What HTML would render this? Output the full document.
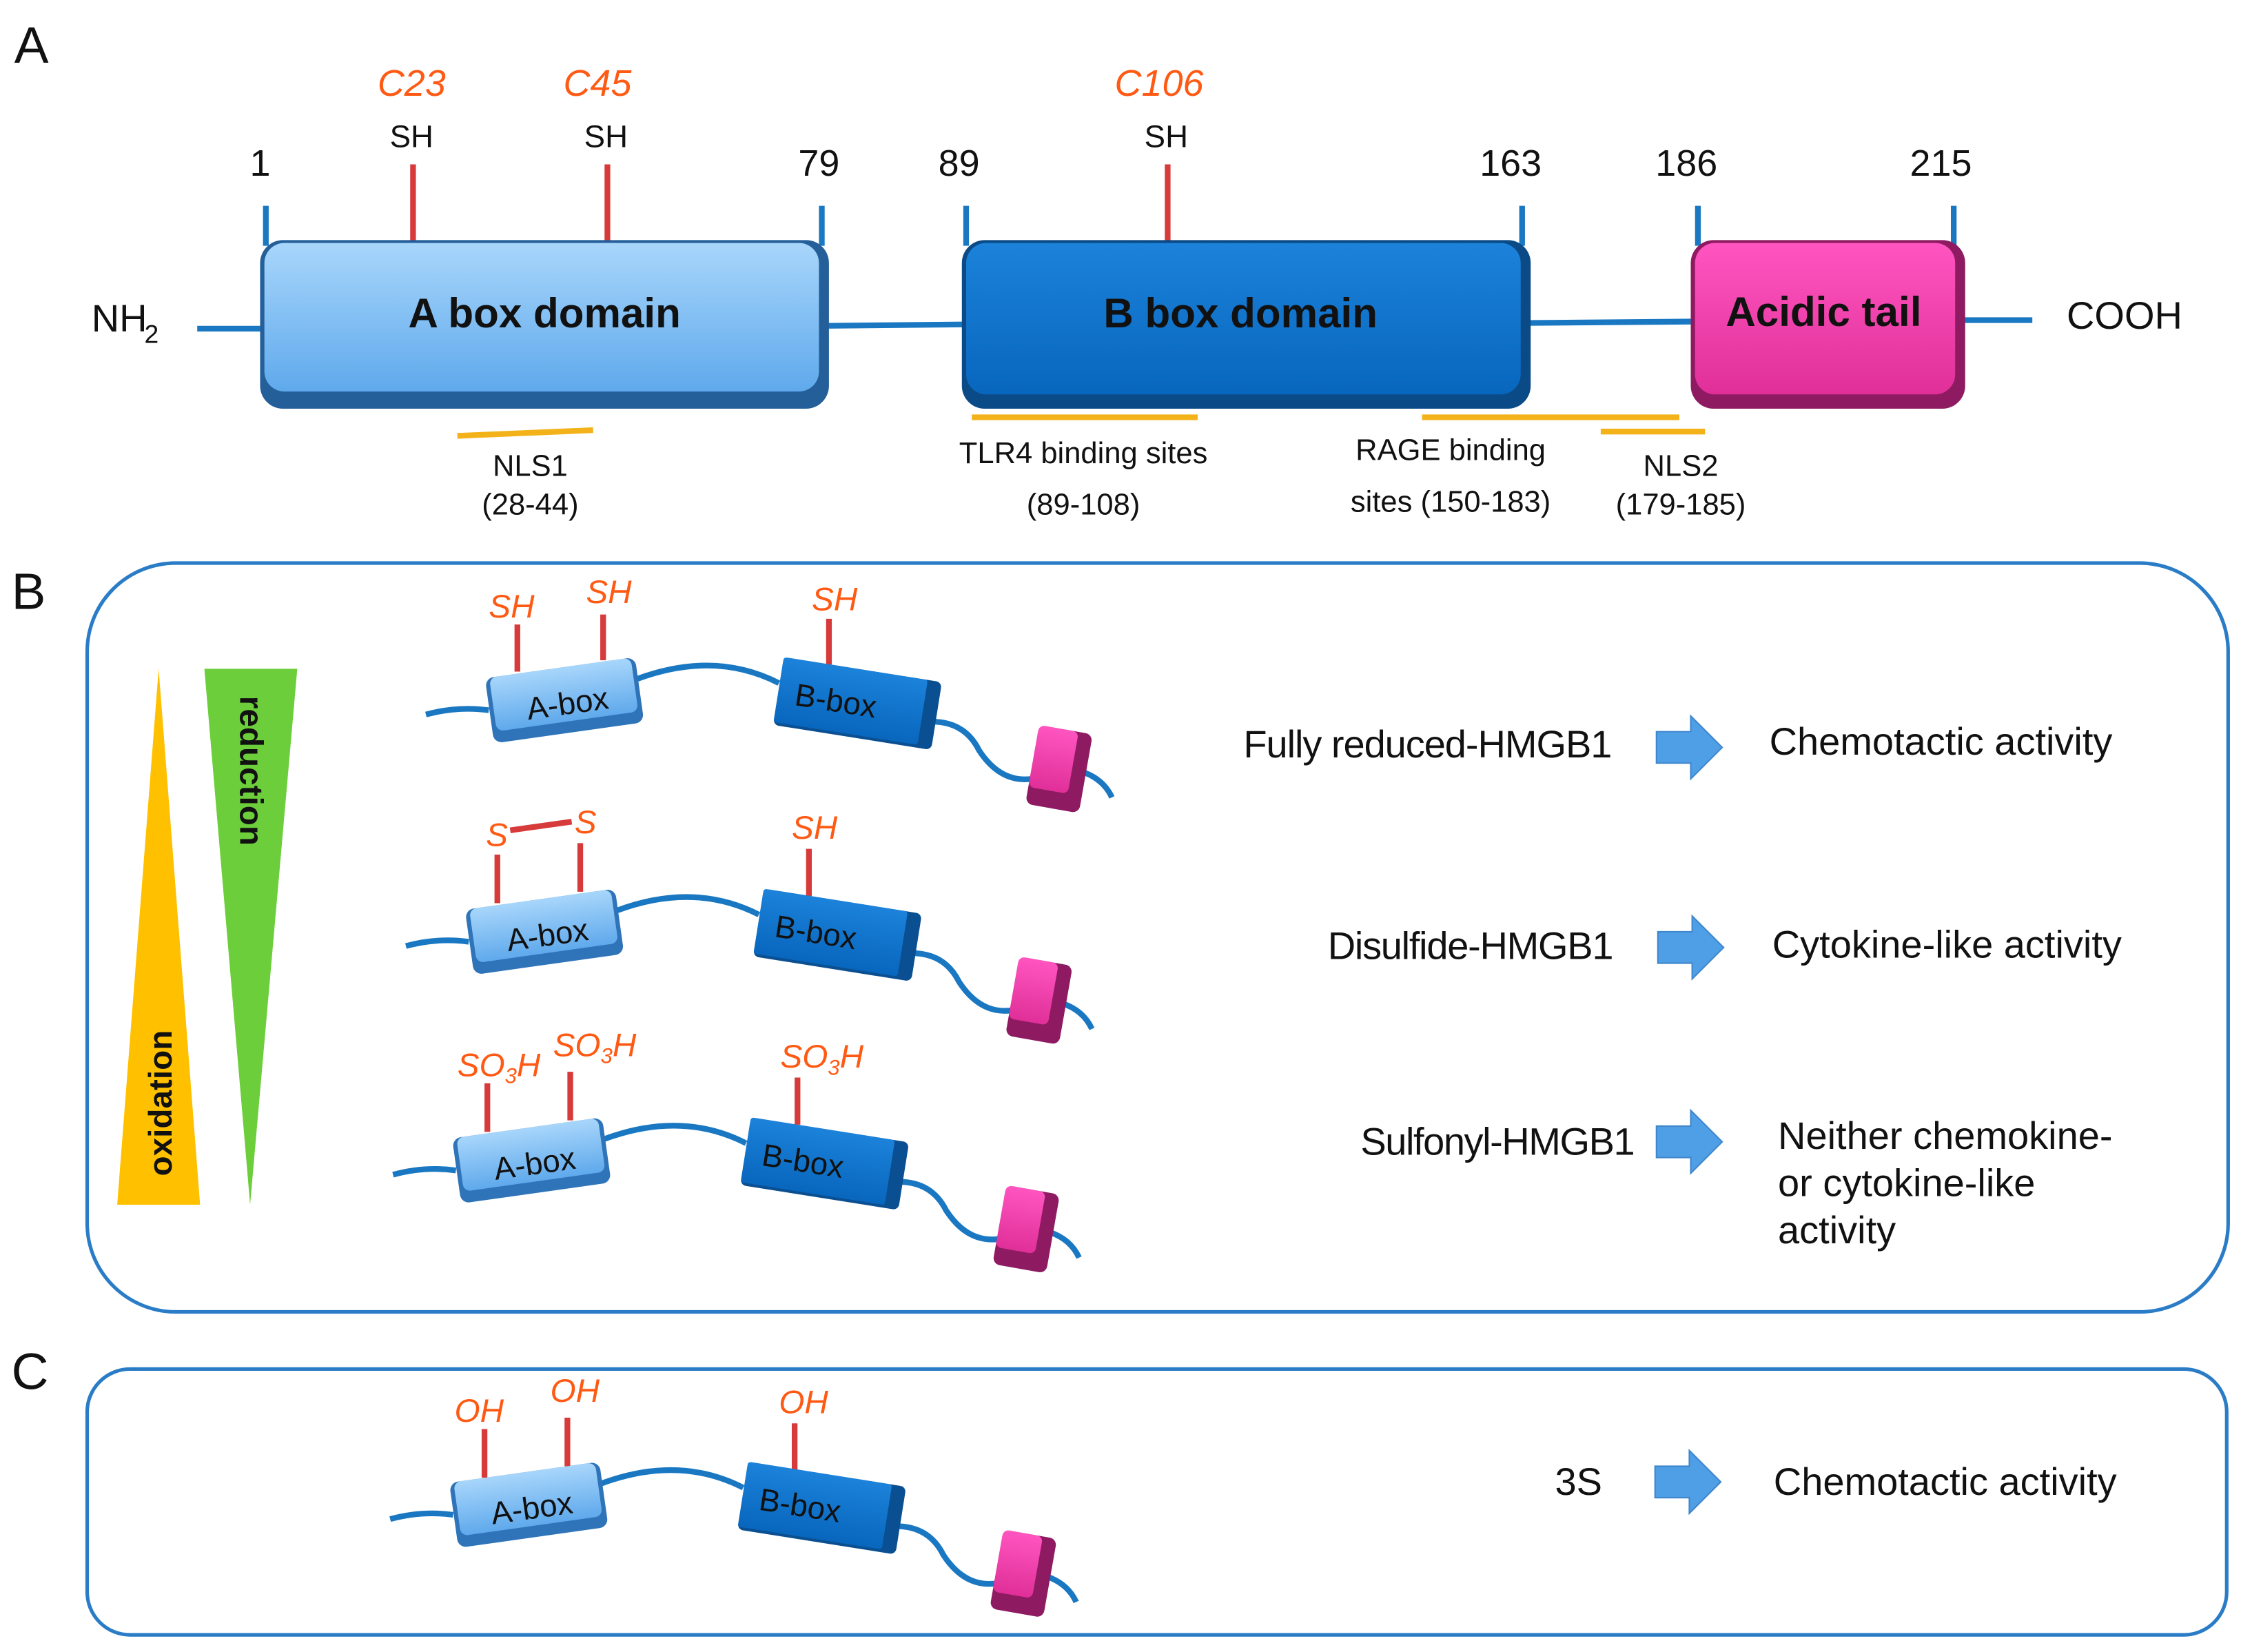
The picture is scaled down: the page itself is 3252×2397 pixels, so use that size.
<!DOCTYPE html>
<html><head><meta charset="utf-8"><style>
html,body{margin:0;padding:0;background:#fff}
svg{display:block}
text{font-family:"Liberation Sans","DejaVu Sans",sans-serif}
.o{fill:#ff5a14;font-style:italic;font-size:23px}
.k{fill:#111;font-size:24px}
.r{fill:#111;font-size:27px}
</style></head><body>
<svg width="3252" height="2397" viewBox="0 0 1568 1156" preserveAspectRatio="none" xmlns="http://www.w3.org/2000/svg">
<defs>
<linearGradient id="ga" x1="0" y1="0" x2="0" y2="1"><stop offset="0" stop-color="#a8d6fb"/><stop offset="1" stop-color="#5fa9ec"/></linearGradient>
<linearGradient id="gb" x1="0" y1="0" x2="0" y2="1"><stop offset="0" stop-color="#1c82da"/><stop offset="1" stop-color="#0866bd"/></linearGradient>
<linearGradient id="gp" x1="0" y1="0" x2="0" y2="1"><stop offset="0" stop-color="#ff55c0"/><stop offset="1" stop-color="#e02f98"/></linearGradient>
<g id="mol">
 <path d="M298 500 Q320 494 342 497" fill="none" stroke="#1a78c2" stroke-width="4"/>
 <path d="M446 475 Q500 455 545 478" fill="none" stroke="#1a78c2" stroke-width="4"/>
 <path d="M652 505 Q675 505 685 525 Q700 548 722 545" fill="none" stroke="#1a78c2" stroke-width="4"/>
 <path d="M757 540 Q772 545 778 558" fill="none" stroke="#1a78c2" stroke-width="4"/>
 <g transform="rotate(-8 395 490)">
  <rect x="342" y="467" width="106" height="46" rx="6" fill="#2f74b8"/>
  <rect x="345" y="467" width="100" height="38" rx="5" fill="url(#ga)"/>
 </g>
 <g transform="rotate(9 598 492)">
  <rect x="544" y="468" width="112" height="48" rx="4" fill="#0a4f91"/>
  <rect x="544" y="468" width="102" height="46" rx="2" fill="url(#gb)"/>
 </g>
 <g transform="rotate(10 740 538)">
  <rect x="722" y="510" width="38" height="56" rx="5" fill="#8e1b62"/>
  <rect x="722" y="510" width="28" height="44" rx="4" fill="url(#gp)"/>
 </g>
</g>
<g id="arr"><path d="M0 -11 H24 V-22 L46 0 L24 22 V11 H0 Z" fill="#4f9fe6" stroke="#3f86cc" stroke-width="1"/></g>
</defs>

<!-- Panel A -->
<text x="10" y="44" font-size="36" fill="#111">A</text>
<line x1="138" y1="230" x2="184" y2="230" stroke="#1a78c2" stroke-width="4"/>
<line x1="578" y1="228" x2="675" y2="227" stroke="#1a78c2" stroke-width="4"/>
<line x1="1068" y1="226" x2="1185" y2="225" stroke="#1a78c2" stroke-width="4"/>
<line x1="1373" y1="224" x2="1422" y2="224" stroke="#1a78c2" stroke-width="4"/>
<g stroke="#1a78c2" stroke-width="4">
<line x1="186" y1="144" x2="186" y2="172"/><line x1="575" y1="144" x2="575" y2="172"/>
<line x1="676" y1="144" x2="676" y2="172"/><line x1="1065" y1="144" x2="1065" y2="172"/>
<line x1="1188" y1="144" x2="1188" y2="172"/><line x1="1367" y1="144" x2="1367" y2="172"/>
</g>
<g stroke="#d63a3a" stroke-width="4">
<line x1="289" y1="115" x2="289" y2="170"/><line x1="425" y1="115" x2="425" y2="170"/><line x1="817" y1="115" x2="817" y2="170"/>
</g>
<rect x="182" y="168" width="398" height="118" rx="16" fill="#245f9a"/>
<rect x="185" y="170" width="388" height="104" rx="14" fill="url(#ga)"/>
<rect x="673" y="168" width="398" height="118" rx="16" fill="#0a4a86"/>
<rect x="676" y="170" width="388" height="106" rx="14" fill="url(#gb)"/>
<rect x="1183" y="168" width="192" height="118" rx="16" fill="#8e1b62"/>
<rect x="1186" y="170" width="182" height="106" rx="14" fill="url(#gp)"/>
<text x="381" y="229" font-size="29" font-weight="bold" text-anchor="middle" fill="#111">A box domain</text>
<text x="868" y="229" font-size="29" font-weight="bold" text-anchor="middle" fill="#111">B box domain</text>
<text x="1276" y="228" font-size="29" font-weight="bold" text-anchor="middle" fill="#111">Acidic tail</text>
<text x="64" y="232" class="r">NH</text><text x="101" y="240" font-size="18" fill="#111">2</text>
<text x="1446" y="230" class="r">COOH</text>
<g class="r" text-anchor="middle" style="font-size:26px">
<text x="182" y="123">1</text><text x="573" y="123">79</text><text x="671" y="123">89</text>
<text x="1057" y="123">163</text><text x="1180" y="123">186</text><text x="1358" y="123">215</text>
</g>
<g class="k" text-anchor="middle" style="font-size:22px">
<text x="288" y="103">SH</text><text x="424" y="103">SH</text><text x="816" y="103">SH</text>
</g>
<g class="o" text-anchor="middle" style="font-size:26px">
<text x="288" y="67">C23</text><text x="418" y="67">C45</text><text x="811" y="67">C106</text>
</g>
<g stroke="#f3b21a" stroke-width="4">
<line x1="320" y1="305" x2="415" y2="301"/><line x1="680" y1="292" x2="838" y2="292"/>
<line x1="995" y1="292" x2="1175" y2="292"/><line x1="1120" y1="302" x2="1193" y2="302"/>
</g>
<g class="k" text-anchor="middle" style="font-size:21px">
<text x="371" y="333">NLS1</text><text x="371" y="360">(28-44)</text>
<text x="758" y="324">TLR4 binding sites</text><text x="758" y="360">(89-108)</text>
<text x="1015" y="322">RAGE binding</text><text x="1015" y="358">sites (150-183)</text>
<text x="1176" y="333">NLS2</text><text x="1176" y="360">(179-185)</text>
</g>

<!-- Panel B -->
<text x="8" y="426" font-size="36" fill="#111">B</text>
<rect x="61" y="394" width="1498" height="524" rx="62" fill="none" stroke="#2a7cc7" stroke-width="2.5"/>
<polygon points="111,468 82,843 140,843" fill="#ffc000"/>
<polygon points="143,468 208,468 175,843" fill="#6cce3a"/>
<text transform="translate(120,823) rotate(-90)" font-size="23" font-weight="bold" fill="#111">oxidation</text>
<text transform="translate(168,487) rotate(90)" font-size="23" font-weight="bold" fill="#111">reduction</text>

<!-- row 1 -->
<g stroke="#d63a3a" stroke-width="4">
<line x1="362" y1="437" x2="362" y2="470"/><line x1="422" y1="430" x2="422" y2="462"/><line x1="580" y1="433" x2="580" y2="465"/>
</g>
<use href="#mol"/>
<text class="o" x="342" y="432">SH</text><text class="o" x="410" y="422">SH</text><text class="o" x="568" y="427">SH</text>
<text x="368" y="500" font-size="22" fill="#111" transform="rotate(-8 395 490)">A-box</text>
<text x="556" y="500" font-size="22" fill="#111" transform="rotate(9 598 492)">B-box</text>

<!-- row 2 -->
<g stroke="#d63a3a" stroke-width="4">
<line x1="348" y1="598" x2="348" y2="632"/><line x1="406" y1="590" x2="406" y2="624"/><line x1="566" y1="594" x2="566" y2="627"/>
<line x1="357" y1="581" x2="400" y2="575"/>
</g>
<use href="#mol" transform="translate(-14,162)"/>
<text class="o" x="340" y="592">S</text><text class="o" x="402" y="583">S</text><text class="o" x="554" y="587">SH</text>
<text x="354" y="662" font-size="22" fill="#111" transform="rotate(-8 381 652)">A-box</text>
<text x="542" y="662" font-size="22" fill="#111" transform="rotate(9 584 654)">B-box</text>

<!-- row 3 -->
<g stroke="#d63a3a" stroke-width="4">
<line x1="341" y1="758" x2="341" y2="792"/><line x1="399" y1="750" x2="399" y2="784"/><line x1="558" y1="754" x2="558" y2="787"/>
</g>
<use href="#mol" transform="translate(-23,322)"/>
<text class="o" x="320" y="753">SO<tspan font-size="15" dy="5">3</tspan><tspan dy="-5">H</tspan></text>
<text class="o" x="387" y="739">SO<tspan font-size="15" dy="5">3</tspan><tspan dy="-5">H</tspan></text>
<text class="o" x="546" y="747">SO<tspan font-size="15" dy="5">3</tspan><tspan dy="-5">H</tspan></text>
<text x="345" y="822" font-size="22" fill="#111" transform="rotate(-8 372 812)">A-box</text>
<text x="533" y="822" font-size="22" fill="#111" transform="rotate(9 575 814)">B-box</text>

<g class="r">
<text x="870" y="530" textLength="258">Fully reduced-HMGB1</text><text x="1238" y="528">Chemotactic activity</text>
<text x="929" y="671" textLength="200">Disulfide-HMGB1</text><text x="1240" y="670">Cytokine-like activity</text>
<text x="952" y="808" textLength="192">Sulfonyl-HMGB1</text>
<text x="1244" y="804">Neither chemokine-</text><text x="1244" y="837">or cytokine-like</text><text x="1244" y="870">activity</text>
</g>
<use href="#arr" transform="translate(1159,523)"/>
<use href="#arr" transform="translate(1160,663)"/>
<use href="#arr" transform="translate(1159,799)"/>

<!-- Panel C -->
<text x="8" y="972" font-size="36" fill="#111">C</text>
<rect x="61" y="958" width="1497" height="186" rx="30" fill="none" stroke="#2a7cc7" stroke-width="2.5"/>
<g stroke="#d63a3a" stroke-width="4">
<line x1="339" y1="1000" x2="339" y2="1034"/><line x1="397" y1="992" x2="397" y2="1026"/><line x1="556" y1="996" x2="556" y2="1029"/>
</g>
<use href="#mol" transform="translate(-25,563)"/>
<text class="o" x="318" y="995">OH</text><text class="o" x="385" y="981">OH</text><text class="o" x="545" y="989">OH</text>
<text x="343" y="1063" font-size="22" fill="#111" transform="rotate(-8 370 1053)">A-box</text>
<text x="531" y="1063" font-size="22" fill="#111" transform="rotate(9 573 1055)">B-box</text>
<g class="r"><text x="1088" y="1046">3S</text><text x="1241" y="1046">Chemotactic activity</text></g>
<use href="#arr" transform="translate(1158,1037)"/>
</svg>
</body></html>
